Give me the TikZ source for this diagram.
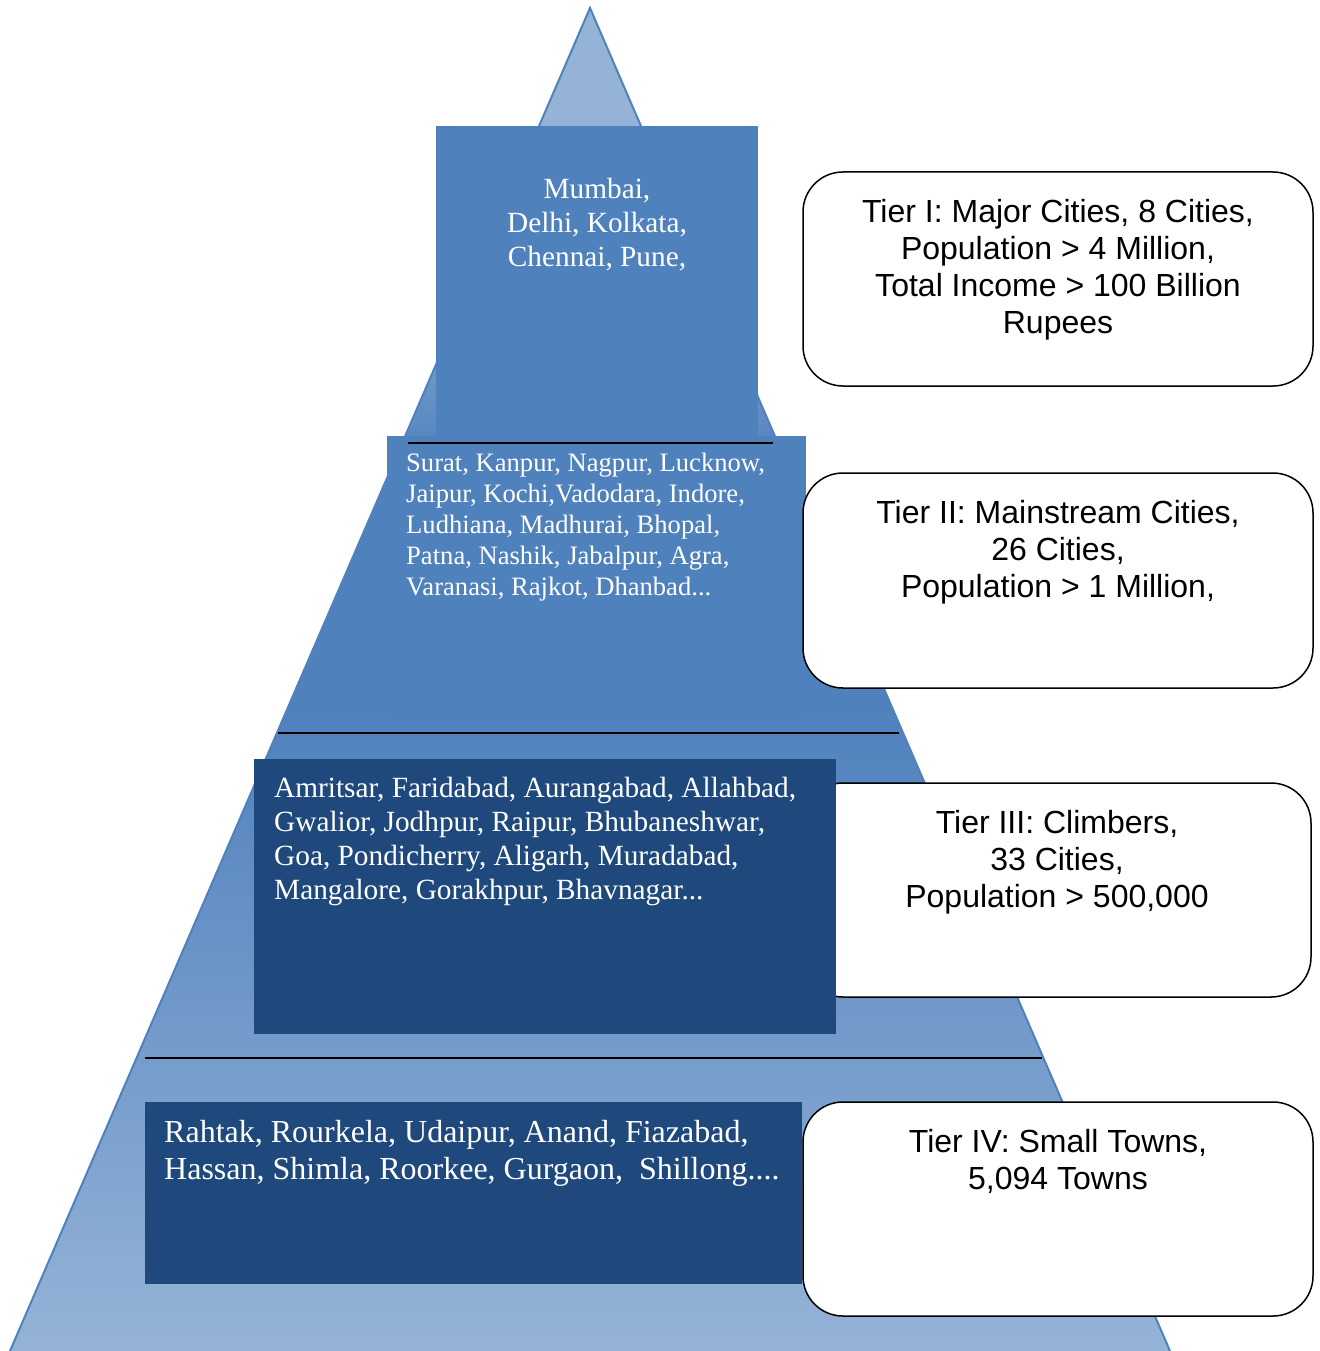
\documentclass[tikz,border=0pt]{standalone}
\usepackage{fontspec}
\newfontfamily\serifcity{Liberation Serif}
\newfontfamily\sanstier{Liberation Sans}
\definecolor{pl}{HTML}{95B3D7}
\definecolor{pd}{HTML}{4F81BD}
\definecolor{navy}{HTML}{1F497D}
\pgfdeclareverticalshading{pyrshade}{100bp}{color(0bp)=(pl); color(25bp)=(pl); color(49bp)=(pd); color(58bp)=(pd); color(66bp)=(pl); color(100bp)=(pl)}
\begin{document}
\begin{tikzpicture}[x=1pt,y=-1pt,
  tierbox/.style={rounded corners=40pt, draw=black, line width=1.5pt, fill=white},
  tiertext/.style={font=\sanstier\fontsize{32}{37}\selectfont, align=center, anchor=north, inner sep=0pt, text=black},
  citytext/.style={text=white, inner sep=0pt, align=left, anchor=north west},
  citybox/.style={inner sep=0pt, anchor=north west, draw=none},
  divider/.style={line width=1.6pt, draw=black}]
\useasboundingbox (0,0) rectangle (1319,1351);
% pyramid
\shade[shading=pyrshade] (590,8) -- (1170,1351) -- (10,1351) -- cycle;
\draw[pd, line width=2pt, line join=miter] (10,1351) -- (590,8) -- (1170,1351);
% tier 1
\node[citybox, fill=pd, minimum width=322pt, minimum height=310pt] (t1box) at (436,126) {};
\node[citytext, align=center, anchor=north, font=\serifcity\fontsize{29.3}{34}\selectfont] (t1text) at (597,178) {Mumbai,\\Delhi, Kolkata,\\Chennai, Pune,};
% tier 2
\node[citybox, fill=pd, minimum width=419pt, minimum height=284pt] (t2box) at (387,436) {};
\coordinate (d1a) at (408,443); \coordinate (d1b) at (773,443);
\draw[divider] (d1a) -- (d1b);
\node[citytext, font=\serifcity\fontsize{26.6}{31}\selectfont] (t2text) at (406,453) {Surat, Kanpur, Nagpur, Lucknow,\\Jaipur, Kochi,Vadodara, Indore,\\Ludhiana, Madhurai, Bhopal,\\Patna, Nashik, Jabalpur, Agra,\\Varanasi, Rajkot, Dhanbad...};
\coordinate (d2a) at (278,733); \coordinate (d2b) at (899,733);
\draw[divider] (d2a) -- (d2b);
% right boxes 1, 2
\draw[tierbox] (803,172) rectangle (1313,386);
\node[tiertext] (r1) at (1058,199) {Tier I: Major Cities, 8 Cities,\\Population > 4 Million,\\Total Income > 100 Billion\\Rupees};
\draw[tierbox] (803,473) rectangle (1313,688);
\node[tiertext] (r2) at (1058,500) {Tier II: Mainstream Cities,\\26 Cities,\\Population > 1 Million,};
% right box 3 (under tier 3 box)
\draw[tierbox] (803,783) rectangle (1311,997);
\node[tiertext] (r3) at (1057,810) {Tier III: Climbers,\\33 Cities,\\Population > 500,000};
% tier 3
\node[citybox, fill=navy, minimum width=582pt, minimum height=275pt] (t3box) at (254,759) {};
\node[citytext, font=\serifcity\fontsize{29.3}{34}\selectfont] (t3text) at (274,777) {Amritsar, Faridabad, Aurangabad, Allahbad,\\Gwalior, Jodhpur, Raipur, Bhubaneshwar,\\Goa, Pondicherry, Aligarh, Muradabad,\\Mangalore, Gorakhpur, Bhavnagar...};
\coordinate (d3a) at (145,1058); \coordinate (d3b) at (1042,1058);
\draw[divider] (d3a) -- (d3b);
% tier 4
\node[citybox, fill=navy, minimum width=657pt, minimum height=182pt] (t4box) at (145,1102) {};
\node[citytext, font=\serifcity\fontsize{32}{37}\selectfont] (t4text) at (164,1120) {Rahtak, Rourkela, Udaipur, Anand, Fiazabad,\\Hassan, Shimla, Roorkee, Gurgaon,\ \ Shillong....};
\draw[tierbox] (803,1102) rectangle (1313,1316);
\node[tiertext] (r4) at (1058,1129) {Tier IV: Small Towns,\\5,094 Towns};
\end{tikzpicture}
\end{document}
